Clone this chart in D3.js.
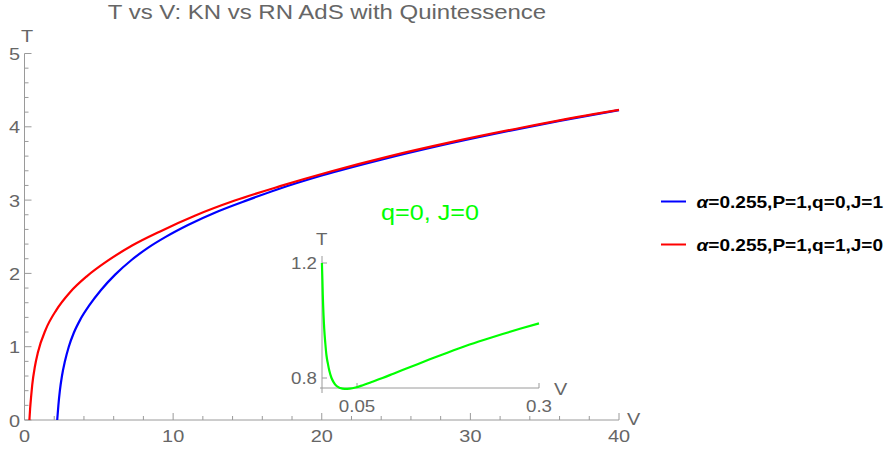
<!DOCTYPE html>
<html><head><meta charset="utf-8">
<script src="https://cdn.jsdelivr.net/npm/d3@7"></script>
<style>
body{margin:0;background:#fff;}
text{font-family:"Liberation Sans",Arial,sans-serif;}
</style></head>
<body>
<svg id="c" width="888" height="449"></svg>
<script>
// ---- data ----
const titleText = "T vs V: KN vs RN AdS with Quintessence";
const xTicks = [0, 10, 20, 30, 40];
const yTicks = [0, 1, 2, 3, 4, 5];
// blue: alpha=0.255, P=1, q=0, J=1
const blueV = [2.2, 2.28, 2.38, 2.52, 2.72, 2.98, 3.32, 3.78, 4.38, 5.15, 6.1, 7.2, 8.3, 9.5, 11, 13, 15, 17, 20, 24, 28, 32, 36, 40];
const blueT = [0, 0.2, 0.4, 0.6, 0.8, 1.0, 1.19, 1.38, 1.57, 1.774, 1.983, 2.183, 2.348, 2.498, 2.66, 2.845, 3.0, 3.145, 3.335, 3.552, 3.746, 3.92, 4.08, 4.227];
// red: alpha=0.255, P=1, q=1, J=0
const redV = [0.33, 0.38, 0.45, 0.52, 0.70, 0.90, 1.44, 2.14, 3.05, 4.19, 5.58, 7.24, 9.2, 11.5, 14.1, 17.2, 20.6, 24.4, 28.7, 33.5, 38.8, 40];
const redT = [0, 0.16, 0.33, 0.48, 0.73, 0.92, 1.24, 1.50, 1.74, 1.96, 2.17, 2.38, 2.58, 2.79, 2.99, 3.19, 3.39, 3.59, 3.79, 3.99, 4.19, 4.23];
// inset green: q=0, J=0
const greenV = [0.0018, 0.0025, 0.003, 0.004, 0.005, 0.0065, 0.008, 0.010, 0.012, 0.015, 0.018, 0.022, 0.027, 0.033, 0.040, 0.048, 0.058, 0.070, 0.085, 0.10, 0.125, 0.15, 0.175, 0.20, 0.225, 0.25, 0.275, 0.30];
const greenT = [1.20, 1.14, 1.09, 1.02, 0.97, 0.92, 0.88, 0.85, 0.825, 0.80, 0.785, 0.772, 0.765, 0.762, 0.763, 0.767, 0.775, 0.786, 0.800, 0.815, 0.840, 0.865, 0.889, 0.912, 0.933, 0.953, 0.972, 0.990];
const insetXTicks = [0.05, 0.3];
const insetYTicks = [0.8, 1.2];
const legendLabels = ["=0.255,P=1,q=0,J=1", "=0.255,P=1,q=1,J=0"];
const legendColors = ["#0000ff", "#ff0000"];
const insetLabel = "q=0, J=0";

const svg = d3.select("#c");
const axisCol = "#9a9a9a", labCol = "#666666";
const SX = 1.17; // horizontal text stretch seen in the reference

function addText(px, py, str, size, anchor, fill, weight) {
  const t = svg.append("text")
    .attr("transform", `translate(${px},${py}) scale(${SX},1)`)
    .attr("text-anchor", anchor || "start")
    .attr("font-size", size).attr("fill", fill || labCol);
  if (weight) t.attr("font-weight", weight);
  if (str !== null) t.text(str);
  return t;
}

// ---- main chart ----
const x = d3.scaleLinear().domain([0, 40]).range([24.5, 619]);
const y = d3.scaleLinear().domain([0, 5]).range([420, 53.5]);

addText(327, 18.5, titleText, 20.5, "middle");

svg.append("line").attr("x1", x(0)).attr("x2", x(40)).attr("y1", y(0)).attr("y2", y(0)).attr("stroke", axisCol);
svg.append("line").attr("x1", x(0)).attr("x2", x(0)).attr("y1", y(0)).attr("y2", y(5)).attr("stroke", axisCol);

d3.range(0, 40.01, 2).forEach(v => {
  const major = xTicks.includes(v);
  svg.append("line").attr("x1", x(v)).attr("x2", x(v)).attr("y1", y(0)).attr("y2", y(0) - (major ? 7 : 4))
    .attr("stroke", axisCol);
});
xTicks.forEach(v => addText(x(v), 442, String(v), 17, "middle"));
d3.range(0, 5.001, 0.2).forEach(v => {
  const major = yTicks.some(t => Math.abs(t - v) < 1e-6);
  svg.append("line").attr("x1", x(0)).attr("x2", x(0) + (major ? 7 : 4)).attr("y1", y(v)).attr("y2", y(v))
    .attr("stroke", axisCol);
});
yTicks.forEach(v => addText(20, y(v) + 6.5, String(v), 17, "end"));
addText(21, 42, "T", 17, "start");
addText(627, 425, "V", 17, "start");

const line = d3.line().x(d => x(d[0])).y(d => y(d[1])).curve(d3.curveMonotoneX);
svg.append("path").datum(blueV.map((v, i) => [v, blueT[i]])).attr("d", line)
  .attr("fill", "none").attr("stroke", "#0000ff").attr("stroke-width", 2.2);
svg.append("path").datum(redV.map((v, i) => [v, redT[i]])).attr("d", line)
  .attr("fill", "none").attr("stroke", "#ff0000").attr("stroke-width", 2.2);

addText(430, 220, insetLabel, 21.5, "middle", "#00ff00");

// ---- inset ----
const ix = d3.scaleLinear().domain([0, 0.3]).range([320.6, 539]);
const iy = d3.scaleLinear().domain([0.8, 1.2]).range([378, 263]);
const iy0 = 388;
svg.append("line").attr("x1", 320).attr("x2", ix(0.3)).attr("y1", iy0).attr("y2", iy0).attr("stroke", axisCol);
svg.append("line").attr("x1", 322).attr("x2", 322).attr("y1", 393).attr("y2", 256).attr("stroke", axisCol);
insetXTicks.forEach(v => {
  svg.append("line").attr("x1", ix(v)).attr("x2", ix(v)).attr("y1", iy0).attr("y2", iy0 - 5).attr("stroke", axisCol);
  addText(ix(v), 412, String(v), 16, "middle");
});
insetYTicks.forEach(v => {
  svg.append("line").attr("x1", 322).attr("x2", 327).attr("y1", iy(v)).attr("y2", iy(v)).attr("stroke", axisCol);
  addText(317, iy(v) + 6, String(v), 16, "end");
});
addText(316, 245, "T", 16, "start");
addText(554, 395, "V", 17, "start");
const iline = d3.line().x(d => ix(d[0])).y(d => iy(d[1])).curve(d3.curveMonotoneX);
svg.append("path").datum(greenV.map((v, i) => [v, greenT[i]])).attr("d", iline)
  .attr("fill", "none").attr("stroke", "#00ff00").attr("stroke-width", 2.2);

// ---- legend ----
legendLabels.forEach((t, i) => {
  const ly = 201.5 + i * 43;
  svg.append("line").attr("x1", 661).attr("x2", 686).attr("y1", ly).attr("y2", ly)
    .attr("stroke", legendColors[i]).attr("stroke-width", 2);
  const tx = addText(696.5, ly + 6.3, null, 16.3, "start", "#000", "bold");
  tx.append("tspan").attr("font-style", "italic").text("α");
  tx.append("tspan").text(t);
});
</script>
</body></html>
